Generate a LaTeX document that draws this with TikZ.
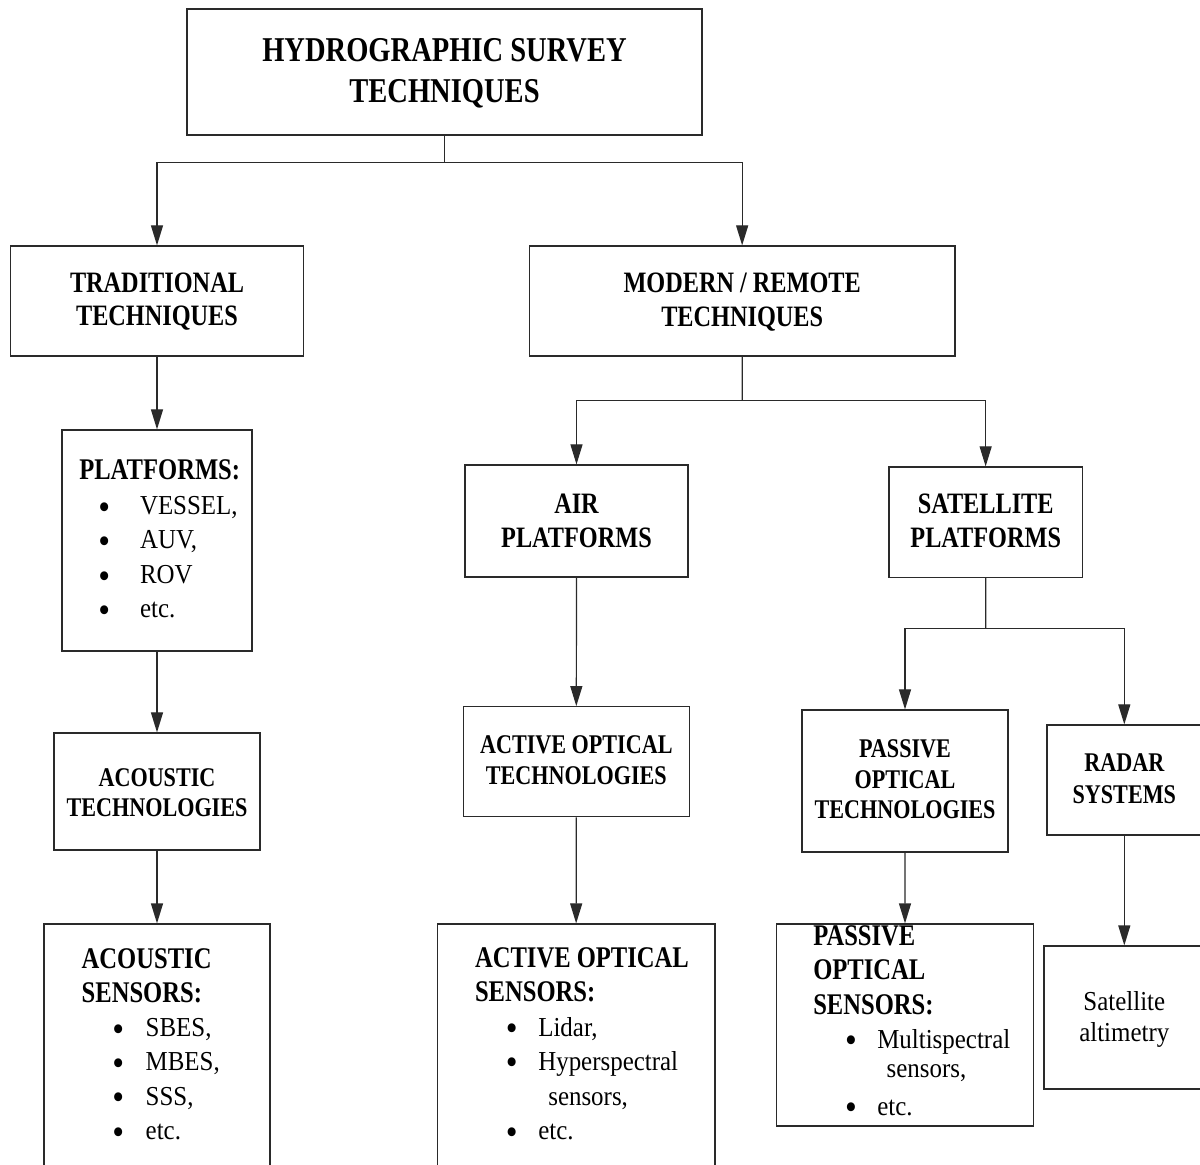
\documentclass[tikz,border=0pt]{standalone}
\usepackage{fontspec}
\newfontfamily\hb[FakeStretch=0.82]{Liberation Serif Bold}
\newfontfamily\rg[FakeStretch=0.91]{Liberation Serif}
\usetikzlibrary{arrows.meta,fit}
\definecolor{linec}{HTML}{2A2A2A}
\newcommand\tl[1]{\begin{tabular}[t]{@{}c@{}}#1\end{tabular}}
\newcommand\tll[1]{\begin{tabular}[t]{@{}l@{}}#1\end{tabular}}
\tikzset{
  box/.style={draw=linec, line width=0.6pt, inner sep=0pt},
  arr/.style={draw=linec, line width=0.6pt, -{Triangle[length=10pt,width=6pt]}},
  ln/.style={draw=linec, line width=0.6pt},
  txt/.style={inner sep=0pt, outer sep=0pt, anchor=base},
  txtl/.style={inner sep=0pt, outer sep=0pt, anchor=base west},
  fTop/.style={font=\hb\fontsize{17.4pt}{20.3pt}\selectfont},
  fLvl/.style={font=\hb\fontsize{14.8pt}{16.65pt}\selectfont},
  fTech/.style={font=\hb\fontsize{13.5pt}{15.2pt}\selectfont},
  fHead/.style={font=\hb\fontsize{15pt}{17.2pt}\selectfont},
  fItem/.style={font=\rg\fontsize{13.7pt}{16pt}\selectfont},
  fBul/.style={inner sep=0pt, outer sep=0pt, anchor=base, font=\rg\fontsize{18.5pt}{19pt}\selectfont},
}
\begin{document}
\begin{tikzpicture}[x=0.5pt,y=-0.5pt]
\useasboundingbox (0,0) rectangle (1200,1165);
\clip (0,0) rectangle (1200,1165);

% ---------- boxes ----------
\node[box, fit={(187,9)(702,135)}] (top) {};
\node[box, fit={(10.5,246)(303.5,356)}] (trad) {};
\node[box, fit={(529.3,246)(955,356)}] (modern) {};
\node[box, fit={(62,430)(252,651)}] (plat) {};
\node[box, fit={(54,733)(260,850)}] (actech) {};
\node[box, fit={(44,924)(270,1185)}] (acsens) {};
\node[box, fit={(465,465)(688,577)}] (air) {};
\node[box, fit={(889,467)(1082.3,577.3)}] (sat) {};
\node[box, fit={(463.3,706.7)(689.3,816.7)}] (aotech) {};
\node[box, fit={(437.3,924)(715,1185)}] (aosens) {};
\node[box, fit={(802,710)(1008,852)}] (pot) {};
\node[box, fit={(1047,725)(1201.6,835)}] (radar) {};
\node[box, fit={(776.7,924)(1033.3,1126)}] (pos) {};
\node[box, fit={(1044,946)(1204.6,1089)}] (alt) {};

% ---------- centred texts ----------
\node[txt,fTop] (topT) at (444.5,61.7) {\tl{HYDROGRAPHIC SURVEY\\TECHNIQUES}};
\node[txt,fLvl] (tradT) at (157,292.7) {\tl{TRADITIONAL\\TECHNIQUES}};
\node[txt,fLvl] (modernT) at (742.2,293) {\tl{MODERN / REMOTE\\TECHNIQUES}};
\node[txt,fLvl] (airT) at (576.5,514) {\tl{AIR\\PLATFORMS}};
\node[txt,fLvl] (satT) at (985.7,514) {\tl{SATELLITE\\PLATFORMS}};
\node[txt,fTech] (actechT) at (157,786) {\tl{ACOUSTIC\\TECHNOLOGIES}};
\node[txt,fTech] (aotechT) at (576.3,754) {\tl{ACTIVE OPTICAL\\TECHNOLOGIES}};
\node[txt,fTech] (potT) at (905,757.7) {\tl{PASSIVE\\OPTICAL\\TECHNOLOGIES}};
\node[txt,font=\hb\fontsize{13.5pt}{15.8pt}\selectfont] (radarT) at (1124.3,771.7) {\tl{RADAR\\SYSTEMS}};
\node[txt,font=\rg\fontsize{13.7pt}{15.85pt}\selectfont] (altT) at (1124.3,1010) {\tl{Satellite\\altimetry}};

% ---------- platforms list ----------
\node[txtl,fHead] (platH) at (79.3,480) {PLATFORMS:};
\node[fBul] (pb1) at (104.3,519.8) {•};
\node[fBul] (pb2) at (104.3,553.8) {•};
\node[fBul] (pb3) at (104.3,588.1) {•};
\node[fBul] (pb4) at (104.3,622.1) {•};
\node[txtl,fItem] (pi1) at (140,515) {VESSEL,};
\node[txtl,fItem] (pi2) at (140,549) {AUV,};
\node[txtl,fItem] (pi3) at (140,583.3) {ROV};
\node[txtl,fItem] (pi4) at (140,617.3) {etc.};

% ---------- acoustic sensors list ----------
\node[txtl,fHead] (acsH) at (81.7,968.3) {\tll{ACOUSTIC\\SENSORS:}};
\node[fBul] (ab1) at (118.3,1041.5) {•};
\node[fBul] (ab2) at (118.3,1075.5) {•};
\node[fBul] (ab3) at (118.3,1109.8) {•};
\node[fBul] (ab4) at (118.3,1144.1) {•};
\node[txtl,fItem] (ai1) at (145.7,1036.7) {SBES,};
\node[txtl,fItem] (ai2) at (145.7,1070.7) {MBES,};
\node[txtl,fItem] (ai3) at (145.7,1105) {SSS,};
\node[txtl,fItem] (ai4) at (145.7,1139.3) {etc.};

% ---------- active optical sensors list ----------
\node[txtl,fHead] (aosH) at (475,967.3) {\tll{ACTIVE OPTICAL\\SENSORS:}};
\node[fBul] (ob1) at (511.7,1040.8) {•};
\node[fBul] (ob2) at (511.7,1074.8) {•};
\node[fBul] (ob3) at (511.7,1144.1) {•};
\node[txtl,fItem] (oi1) at (538.3,1036) {Lidar,};
\node[txtl,fItem] (oi2) at (538.3,1070) {Hyperspectral};
\node[txtl,fItem] (oi3) at (548.3,1105) {sensors,};
\node[txtl,fItem] (oi4) at (538.3,1139.3) {etc.};

% ---------- passive optical sensors list ----------
\node[txtl,font=\hb\fontsize{15pt}{17.4pt}\selectfont] (posH) at (813.3,945) {\tll{PASSIVE\\OPTICAL\\SENSORS:}};
\node[fBul] (sb1) at (851,1052.8) {•};
\node[fBul] (sb2) at (851,1119.8) {•};
\node[txtl,fItem] (si1) at (877.3,1048) {Multispectral};
\node[txtl,fItem] (si2) at (886.7,1077) {sensors,};
\node[txtl,fItem] (si3) at (877.3,1115) {etc.};

% ---------- connectors ----------
\coordinate (j1) at (444.5,162.3);
\draw[ln] (top.south) -- (j1);
\draw[arr] (j1) -| (trad.north);
\draw[arr] (j1) -| (modern.north);
\draw[arr] (trad.south) -- (plat.north);
\draw[arr] (plat.south) -- (actech.north);
\draw[arr] (actech.south) -- (acsens.north);

\coordinate (j2) at (742.2,400.7);
\draw[ln] (modern.south) -- (j2);
\draw[arr] (j2) -| (air.north);
\draw[arr] (j2) -| (sat.north);
\draw[arr] (air.south) -- (aotech.north);
\draw[arr] (aotech.south) -- (aosens.north);

\coordinate (j3) at (985.7,628.7);
\draw[ln] (sat.south) -- (j3);
\draw[arr] (j3) -| (pot.north);
\draw[arr] (j3) -| (radar.north);
\draw[arr] (pot.south) -- (pos.north);
\draw[arr] (radar.south) -- (alt.north);
\end{tikzpicture}
\end{document}
